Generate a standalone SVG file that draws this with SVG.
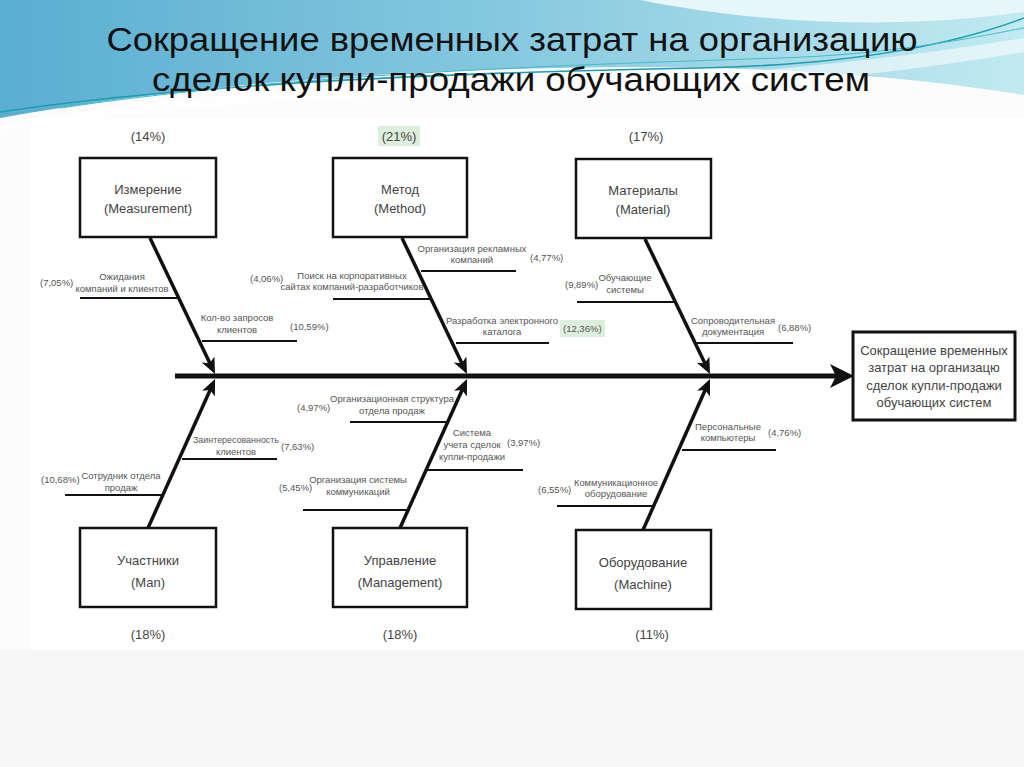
<svg xmlns="http://www.w3.org/2000/svg" width="1024" height="767" viewBox="0 0 1024 767">
<defs>
<linearGradient id="hdr" x1="0" y1="0" x2="1" y2="0">
<stop offset="0" stop-color="#5aaed1"/>
<stop offset="0.5" stop-color="#86c9df"/>
<stop offset="1" stop-color="#c2eaf1"/>
</linearGradient>
<marker id="ah" markerUnits="userSpaceOnUse" markerWidth="18" markerHeight="16" refX="10" refY="7" orient="auto">
<path d="M0,0 L16,7 L0,14 L4,7 Z" fill="#111"/>
</marker>
<style>
.box{fill:#fff;stroke:#111;stroke-width:2.5}
.bone{stroke:#111;stroke-width:3.5;fill:none;marker-end:url(#ah)}
.sub{stroke:#111;stroke-width:2}
.tb{font-family:"Liberation Sans",Arial,sans-serif;font-size:13px;fill:#444;text-anchor:middle}
.ts{font-family:"Liberation Sans",Arial,sans-serif;font-size:9.5px;fill:#555;text-anchor:middle}
.tp{font-family:"Liberation Sans",Arial,sans-serif;font-size:9.5px;fill:#555}
.title{font-family:"Liberation Sans Narrow","Liberation Sans",Arial,sans-serif;font-size:34px;fill:#111;text-anchor:middle}
</style>
</defs>
<rect x="0" y="0" width="1024" height="767" fill="#fcfcfc"/>
<rect x="0" y="650" width="1024" height="117" fill="#f7f7f7"/>
<rect x="30" y="118" width="994" height="532" fill="#ffffff"/>
<!-- header decoration -->
<path d="M0,0 H1024 V95 C880,72 720,64 560,68 C360,72 180,86 0,118 Z" fill="url(#hdr)"/>
<path d="M640,0 C760,24 900,30 1024,12 V0 Z" fill="#e6f6f9"/>
<path d="M0,124 C150,100 300,84 500,82 C700,80 860,64 1024,38 V52 C860,80 700,92 500,94 C300,96 150,110 0,130 Z" fill="#ffffff" opacity="0.55"/>
<path d="M0,112 C200,82 480,72 700,68 C850,65 950,46 1024,18" fill="none" stroke="#1d9db2" stroke-width="1.6"/>
<path d="M60,108 C300,72 600,64 780,58 C900,54 980,36 1024,28" fill="none" stroke="#43bccb" stroke-width="1"/>
<text class="title" x="512" y="51" textLength="811" lengthAdjust="spacingAndGlyphs">Сокращение временных затрат на организацию</text>
<text class="title" x="511" y="91" textLength="718" lengthAdjust="spacingAndGlyphs">сделок купли-продажи обучающих систем</text>

<!-- connectors -->
<g id="connectors">
<line x1="175" y1="376" x2="836" y2="376" stroke="#111" stroke-width="5"/>
<polygon points="830,364 854,376 830,388 836,376" fill="#111"/>
<line class="bone" x1="150" y1="238" x2="212.4" y2="368.6"/>
<line class="bone" x1="402" y1="238" x2="464.4" y2="368.6"/>
<line class="bone" x1="645" y1="239" x2="707.4" y2="368.6"/>
<line class="bone" x1="148" y1="528" x2="212.6" y2="384.5"/>
<line class="bone" x1="400" y1="528" x2="464.6" y2="384.5"/>
<line class="bone" x1="643" y1="530" x2="707.6" y2="384.5"/>
<line class="sub" x1="80" y1="298" x2="178" y2="298"/>
<line class="sub" x1="202" y1="341" x2="297" y2="341"/>
<line class="sub" x1="333" y1="299" x2="431" y2="299"/>
<line class="sub" x1="421" y1="271" x2="516" y2="271"/>
<line class="sub" x1="456" y1="343" x2="549" y2="343"/>
<line class="sub" x1="577" y1="302" x2="674" y2="302"/>
<line class="sub" x1="697" y1="343" x2="793" y2="343"/>
<line class="sub" x1="182" y1="459" x2="277" y2="459"/>
<line class="sub" x1="65" y1="495" x2="162" y2="495"/>
<line class="sub" x1="350" y1="422" x2="447" y2="422"/>
<line class="sub" x1="427" y1="470" x2="523" y2="470"/>
<line class="sub" x1="303" y1="510" x2="410" y2="510"/>
<line class="sub" x1="682" y1="450" x2="776" y2="450"/>
<line class="sub" x1="557" y1="506" x2="653" y2="506"/>
</g>

<!-- cause boxes -->
<g id="measurement">
<text class="tb" x="148" y="141">(14%)</text>
<rect class="box" x="80" y="158" width="136" height="79"/>
<text class="tb" x="148" y="194">Измерение</text>
<text class="tb" x="148" y="213">(Measurement)</text>
</g>
<g id="method">
<rect x="378" y="126" width="42" height="20" fill="#dcefdc"/>
<text class="tb" x="399" y="141">(21%)</text>
<rect class="box" x="333" y="158" width="134" height="79"/>
<text class="tb" x="400" y="194">Метод</text>
<text class="tb" x="400" y="213">(Method)</text>
</g>
<g id="material">
<text class="tb" x="646" y="141">(17%)</text>
<rect class="box" x="576" y="159" width="135" height="79"/>
<text class="tb" x="643" y="195">Материалы</text>
<text class="tb" x="643" y="214">(Material)</text>
</g>
<g id="man">
<rect class="box" x="80" y="528" width="136" height="79"/>
<text class="tb" x="148" y="565">Участники</text>
<text class="tb" x="148" y="587">(Man)</text>
<text class="tb" x="148" y="639">(18%)</text>
</g>
<g id="management">
<rect class="box" x="333" y="528" width="134" height="79"/>
<text class="tb" x="400" y="565">Управление</text>
<text class="tb" x="400" y="587">(Management)</text>
<text class="tb" x="400" y="639">(18%)</text>
</g>
<g id="machine">
<rect class="box" x="576" y="530" width="135" height="79"/>
<text class="tb" x="643" y="567">Оборудование</text>
<text class="tb" x="643" y="589">(Machine)</text>
<text class="tb" x="652" y="639">(11%)</text>
</g>

<!-- effect -->
<g id="effect">
<rect x="853" y="332" width="162" height="88" fill="#fff" stroke="#111" stroke-width="3"/>
<text class="tb" x="934" y="355">Сокращение временных</text>
<text class="tb" x="934" y="372">затрат на организацю</text>
<text class="tb" x="934" y="390">сделок купли-продажи</text>
<text class="tb" x="934" y="407">обучающих систем</text>
</g>

<!-- sub-cause labels -->
<g id="sub-measurement">
<text class="tp" x="40" y="286">(7,05%)</text>
<text class="ts" x="122" y="280">Ожидания</text>
<text class="ts" x="122" y="292">компаний и клиентов</text>
<text class="ts" x="237" y="321">Кол-во запросов</text>
<text class="ts" x="237" y="333">клиентов</text>
<text class="tp" x="290" y="330">(10,59%)</text>
</g>
<g id="sub-method">
<text class="tp" x="250" y="282">(4,06%)</text>
<text class="ts" x="352" y="279">Поиск на корпоративных</text>
<text class="ts" x="352" y="290">сайтах компаний-разработчиков</text>
<text class="ts" x="472" y="252">Организация рекламных</text>
<text class="ts" x="472" y="263">компаний</text>
<text class="tp" x="530" y="261">(4,77%)</text>
<text class="ts" x="502" y="324">Разработка электронного</text>
<text class="ts" x="502" y="335">каталога</text>
<rect x="560" y="320" width="45" height="17" fill="#dcefdc"/>
<text class="tp" x="563" y="332">(12,36%)</text>
</g>
<g id="sub-material">
<text class="tp" x="565" y="288">(9,89%)</text>
<text class="ts" x="625" y="281">Обучающие</text>
<text class="ts" x="625" y="293">системы</text>
<text class="ts" x="733" y="324">Сопроводительная</text>
<text class="ts" x="733" y="335">документация</text>
<text class="tp" x="778" y="331">(6,88%)</text>
</g>
<g id="sub-man">
<text class="ts" x="236" y="443" textLength="86" lengthAdjust="spacingAndGlyphs">Заинтересованность</text>
<text class="ts" x="236" y="455">клиентов</text>
<text class="tp" x="281" y="450">(7,63%)</text>
<text class="tp" x="41" y="483">(10,68%)</text>
<text class="ts" x="121" y="479">Сотрудник отдела</text>
<text class="ts" x="121" y="491">продаж</text>
</g>
<g id="sub-management">
<text class="tp" x="297" y="411">(4,97%)</text>
<text class="ts" x="392" y="402">Организационная структура</text>
<text class="ts" x="392" y="414">отдела продаж</text>
<text class="ts" x="472" y="436">Система</text>
<text class="ts" x="472" y="448">учета сделок</text>
<text class="ts" x="472" y="460">купли-продажи</text>
<text class="tp" x="507" y="446">(3,97%)</text>
<text class="tp" x="279" y="491">(5,45%)</text>
<text class="ts" x="358" y="483">Организация системы</text>
<text class="ts" x="358" y="495">коммуникаций</text>
</g>
<g id="sub-machine">
<text class="ts" x="728" y="430">Персональные</text>
<text class="ts" x="728" y="441">компьютеры</text>
<text class="tp" x="768" y="436">(4,76%)</text>
<text class="tp" x="538" y="493">(6,55%)</text>
<text class="ts" x="616" y="486" textLength="84" lengthAdjust="spacingAndGlyphs">Коммуникационное</text>
<text class="ts" x="616" y="497">оборудование</text>
</g>
</svg>
